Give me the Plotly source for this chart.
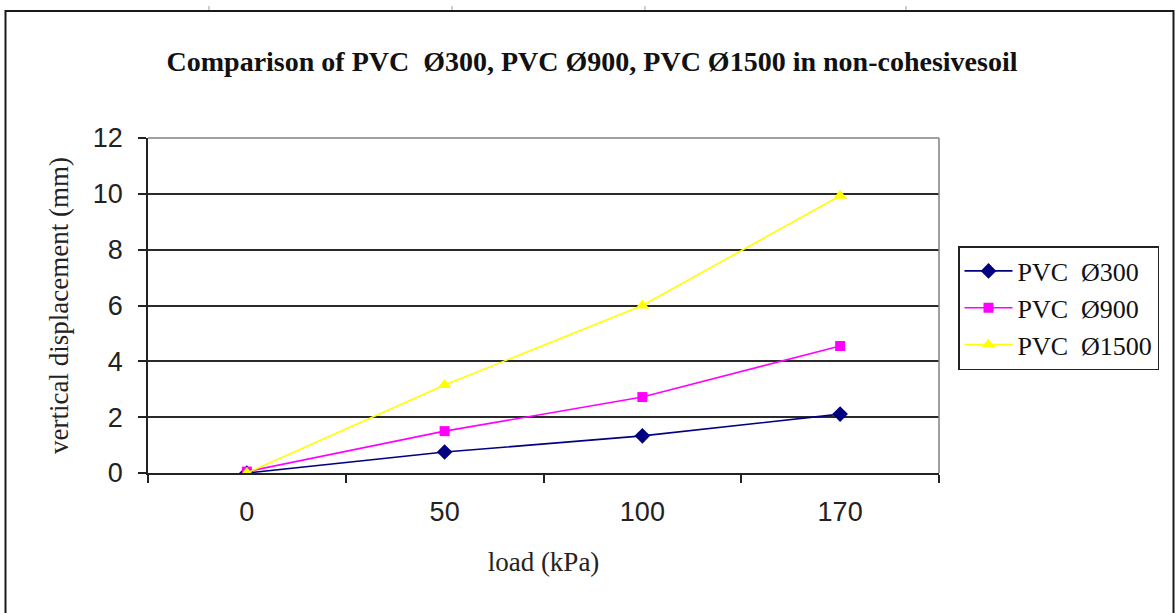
import plotly.graph_objects as go

# Load steps (category axis) and measured vertical displacements
loads = ["0", "50", "100", "170"]
pvc_300 = [0.0, 0.75, 1.33, 2.11]
pvc_900 = [0.05, 1.50, 2.72, 4.55]
pvc_1500 = [0.0, 3.15, 6.00, 9.93]

series_names = ["PVC\u00a0\u00a0Ø300", "PVC\u00a0\u00a0Ø900", "PVC\u00a0\u00a0Ø1500"]
y_ticks = [0, 2, 4, 6, 8, 10, 12]

W, H = 1175, 613
L, R, T, B = 148, 939, 138, 473  # plot-area edges in pixels

def px_x(p):
    return (p - L) / (R - L)

def px_y(p):
    return (B - p) / (B - T)

serif = "Liberation Serif, Times New Roman, serif"
sans = "Liberation Sans, Arial, sans-serif"

fig = go.Figure()

styles = [
    ("#000080", "diamond", 12),
    ("#FF00FF", "square", 10),
    ("#FFFF00", "triangle-up", 12),
]
for name, vals, (col, sym, sz) in zip(series_names, [pvc_300, pvc_900, pvc_1500], styles):
    fig.add_trace(go.Scatter(
        x=loads, y=vals, name=name, mode="lines+markers",
        line=dict(color=col, width=1.6),
        marker=dict(symbol=sym, size=sz, color=col, line=dict(width=0)),
    ))

# Outer chart frame, plot-area border and small marks along the top edge
shapes = [
    dict(type="rect", xref="paper", yref="paper",
         x0=px_x(5.5), x1=px_x(1173.5), y0=px_y(640), y1=px_y(11),
         line=dict(color="#1a1a1a", width=2), layer="below"),
    dict(type="line", xref="paper", yref="paper",
         x0=0, x1=1, y0=1, y1=1, line=dict(color="#808080", width=1.5)),
    dict(type="line", xref="paper", yref="paper",
         x0=1, x1=1, y0=0, y1=1, line=dict(color="#808080", width=1.5)),
]
for mx in [209, 452, 645, 906]:
    shapes.append(dict(type="line", xref="paper", yref="paper",
                       x0=px_x(mx), x1=px_x(mx), y0=px_y(6), y1=px_y(10),
                       line=dict(color="#bdbdbd", width=1.5)))

fig.update_layout(
    width=W, height=H,
    margin=dict(l=L, r=W - R, t=T, b=H - B, pad=0),
    paper_bgcolor="white", plot_bgcolor="white",
    title=dict(
        text="<b>Comparison of PVC\u00a0\u00a0Ø300, PVC Ø900, PVC Ø1500 in non-cohesivesoil</b>",
        x=592 / W, xref="container", xanchor="center",
        y=1 - 61 / H, yref="container", yanchor="middle",
        font=dict(family=serif, size=28, color="#111"),
    ),
    showlegend=True,
    legend=dict(
        x=px_x(958), y=px_y(246), xanchor="left", yanchor="top",
        bordercolor="#222", borderwidth=1.5, bgcolor="white",
        font=dict(family=serif, size=26, color="#111"),
        tracegroupgap=0, itemwidth=48,
    ),
    shapes=shapes,
    xaxis=dict(
        type="category", categoryorder="array", categoryarray=loads,
        range=[-0.5, 3.5], tickson="boundaries",
        ticks="outside", ticklen=8, tickwidth=1.5, tickcolor="#222",
        showline=True, linecolor="#222", linewidth=1.5,
        showgrid=False, zeroline=False,
        tickfont=dict(family=sans, size=27, color="#222"),
        ticklabelstandoff=14,
        title=dict(text="load (kPa)", font=dict(family=serif, size=27, color="#222"), standoff=26),
    ),
    yaxis=dict(
        range=[0, 12], tickvals=y_ticks,
        ticks="outside", ticklen=8, tickwidth=1.5, tickcolor="#222",
        showline=True, linecolor="#222", linewidth=1.5,
        showgrid=True, gridcolor="#2a2a2a", gridwidth=1.8,
        zeroline=False,
        tickfont=dict(family=sans, size=27, color="#222"),
        ticklabelstandoff=10,
        title=dict(text="vertical displacement (mm)", font=dict(family=serif, size=27, color="#222"), standoff=16),
    ),
)

fig.write_html("out.html")
